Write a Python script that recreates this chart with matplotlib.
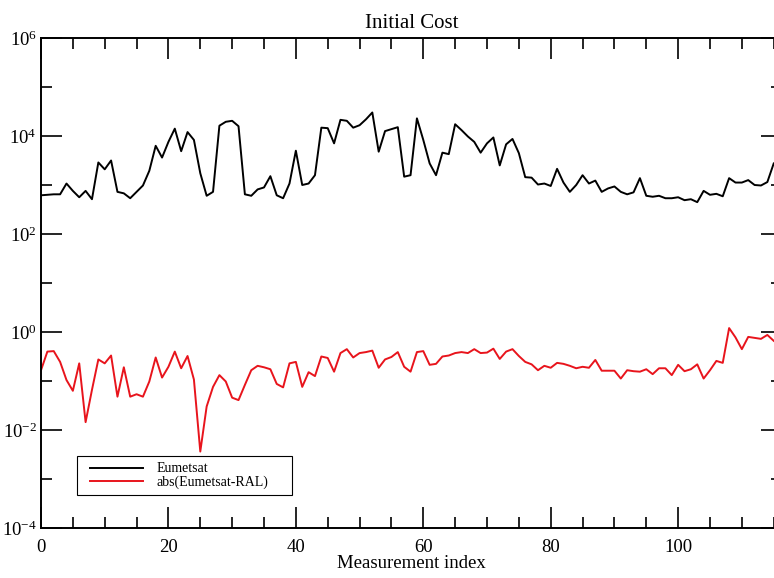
import numpy as np
import matplotlib.pyplot as plt
from matplotlib.ticker import NullFormatter, MultipleLocator
from matplotlib.legend_handler import HandlerLine2D

plt.rcParams['font.family'] = ['Liberation Serif', 'DejaVu Serif']
plt.rcParams['mathtext.default'] = 'regular'
plt.rcParams['axes.unicode_minus'] = False

eum_log10 = [
    2.79, 2.80, 2.81, 2.81, 3.03, 2.88, 2.75, 2.88, 2.71, 3.46,
    3.32, 3.50, 2.86, 2.83, 2.73, 2.86, 2.99, 3.29, 3.80, 3.56,
    3.88, 4.15, 3.69, 4.08, 3.92, 3.24, 2.78, 2.86, 4.21, 4.29,
    4.31, 4.20, 2.81, 2.78, 2.91, 2.95, 3.18, 2.79, 2.73, 3.03,
    3.70, 3.00, 3.03, 3.20, 4.17, 4.16, 3.85, 4.33, 4.31, 4.17,
    4.22, 4.34, 4.48, 3.68, 4.10, 4.14, 4.18, 3.17, 3.20, 4.36,
    3.92, 3.44, 3.20, 3.66, 3.63, 4.24, 4.12, 3.99, 3.88, 3.66,
    3.85, 3.97, 3.40, 3.83, 3.94, 3.65, 3.16, 3.15, 3.01, 3.03,
    2.98, 3.33, 3.05, 2.86, 3.00, 3.20, 3.03, 3.09, 2.86, 2.93,
    2.97, 2.86, 2.81, 2.85, 3.14, 2.78, 2.76, 2.78, 2.73, 2.73,
    2.75, 2.69, 2.71, 2.65, 2.88, 2.80, 2.82, 2.77, 3.14, 3.05,
    3.05, 3.10, 3.00, 2.99, 3.06, 3.44,
]
diff_log10 = [
    -0.78, -0.40, -0.39, -0.61, -0.98, -1.20, -0.64, -1.84, -1.18, -0.56,
    -0.64, -0.48, -1.32, -0.72, -1.32, -1.27, -1.32, -1.01, -0.52, -0.93,
    -0.71, -0.40, -0.74, -0.49, -0.97, -2.44, -1.52, -1.12, -0.88, -1.01,
    -1.34, -1.39, -1.08, -0.78, -0.69, -0.72, -0.76, -1.06, -1.13, -0.64,
    -0.61, -1.12, -0.82, -0.90, -0.50, -0.53, -0.81, -0.43, -0.35, -0.52,
    -0.43, -0.41, -0.38, -0.73, -0.56, -0.51, -0.41, -0.71, -0.81, -0.41,
    -0.39, -0.67, -0.65, -0.50, -0.48, -0.43, -0.41, -0.43, -0.35, -0.43,
    -0.42, -0.34, -0.55, -0.40, -0.35, -0.49, -0.61, -0.66, -0.78, -0.69,
    -0.73, -0.63, -0.65, -0.69, -0.74, -0.71, -0.73, -0.57, -0.79, -0.79,
    -0.79, -0.95, -0.78, -0.80, -0.81, -0.76, -0.86, -0.74, -0.74, -0.88,
    -0.67, -0.80, -0.76, -0.66, -0.95, -0.78, -0.59, -0.63, 0.08, -0.11,
    -0.35, -0.10, -0.12, -0.14, -0.06, -0.18,
]
labels = ["Eumetsat", "abs(Eumetsat-RAL)"]
yticks_major = [1e-4, 1e-2, 1e0, 1e2, 1e4, 1e6]
yticks_minor = [1e-3, 1e-1, 1e1, 1e3, 1e5]

idx = np.arange(len(eum_log10))
eum = 10.0 ** np.array(eum_log10)
diff = 10.0 ** np.array(diff_log10)

fig = plt.figure(figsize=(7.74, 5.78), dpi=100)
# the right side of the frame runs just past the edge of the picture
ax = fig.add_axes([41/774, 50/578, 741/774, 490/578])

ax.plot(idx, eum, color="black", lw=1.4, label=labels[0])
ax.plot(idx, diff, color="#e8141c", lw=1.4, label=labels[1])

ax.set_yscale("log")
ax.set_xlim(0, 116.3)
ax.set_ylim(1e-4, 1e6)
ax.set_yticks(yticks_major)
ax.set_yticks(yticks_minor, minor=True)
ax.yaxis.set_minor_formatter(NullFormatter())
ax.xaxis.set_major_locator(MultipleLocator(20))
ax.xaxis.set_minor_locator(MultipleLocator(5))

ax.tick_params(which="both", direction="in", top=True, right=True,
               width=1.2, labelsize=13.5, colors="black")
ax.tick_params(which="major", length=15)
ax.tick_params(which="minor", length=8)
ax.tick_params(axis="x", pad=8)
ax.tick_params(axis="y", pad=3)
for s in ax.spines.values():
    s.set_linewidth(1.4)

ax.set_title("Initial Cost", fontsize=15, pad=7)
ax.set_xlabel("Measurement index", fontsize=13.5, labelpad=-1)

hm = {l: HandlerLine2D(xpad=0.45) for l in ax.get_lines()}
leg = ax.legend(loc="lower left", bbox_to_anchor=(0.0486, 0.067, 0.29, 0.07),
                mode="expand", borderaxespad=0, fancybox=False, framealpha=1,
                edgecolor="black", fontsize=10, handlelength=4.3,
                labelspacing=0.0, handletextpad=0.97, borderpad=0.45,
                handler_map=hm)
leg.get_frame().set_linewidth(0.8)

fig.savefig("out.png", dpi=100)
